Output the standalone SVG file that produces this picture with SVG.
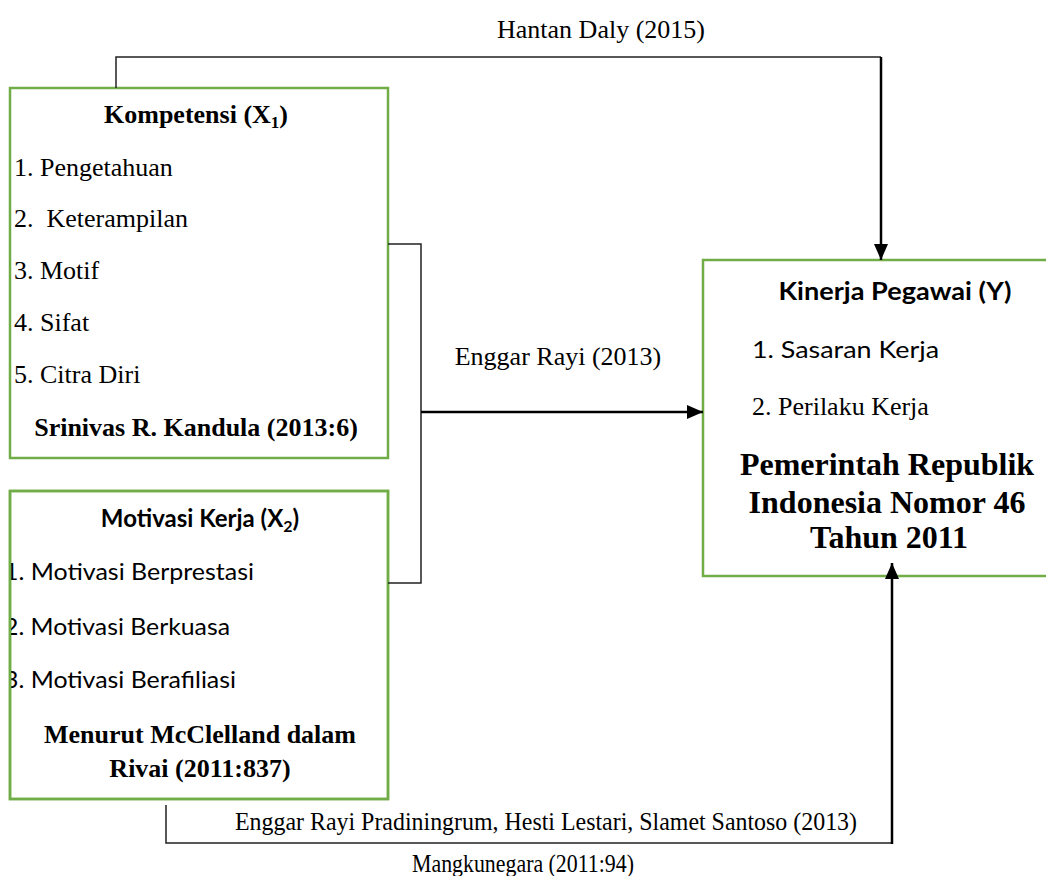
<svg xmlns="http://www.w3.org/2000/svg" width="1046" height="876" viewBox="0 0 1046 876">
<style>
.box{fill:#fff;stroke:#70AD47;stroke-width:2.5}
.tr{font-family:"Liberation Serif","Times New Roman",serif;font-size:26px;fill:#000}
.trb{font-family:"Liberation Serif","Times New Roman",serif;font-size:26px;font-weight:bold;fill:#000}
.big{font-family:"Liberation Serif","Times New Roman",serif;font-size:32px;font-weight:bold;fill:#000}
.cal{font-family:Lato,"Open Sans",sans-serif;font-size:24px;fill:#000}
.calb{font-family:Lato,"Open Sans",sans-serif;font-size:24px;font-weight:bold;fill:#000}
.thin{fill:none;stroke:#222;stroke-width:1.5}
.thick{fill:none;stroke:#000;stroke-width:2.5}
</style>
<defs>
<marker id="ah" viewBox="0 0 16 14" refX="16" refY="7" markerWidth="16" markerHeight="14" markerUnits="userSpaceOnUse" orient="auto">
<path d="M0,0 L16,7 L0,14 Z" fill="#000"/>
</marker>
<clipPath id="c2"><rect x="11" y="491" width="376" height="308"/></clipPath>
</defs>
<rect width="1046" height="876" fill="#fff"/>

<g id="node-kompetensi">
<rect class="box" x="10" y="88" width="378" height="370"/>
<text class="trb" x="196" y="123" text-anchor="middle">Kompetensi (X<tspan font-size="17" dy="5">1</tspan><tspan dy="-5">)</tspan></text>
<text class="tr" x="14" y="176">1. Pengetahuan</text>
<text class="tr" x="14" y="227" xml:space="preserve">2.  Keterampilan</text>
<text class="tr" x="14" y="279">3. Motif</text>
<text class="tr" x="14" y="331">4. Sifat</text>
<text class="tr" x="14" y="383">5. Citra Diri</text>
<text class="trb" x="196" y="436" text-anchor="middle">Srinivas R. Kandula (2013:6)</text>
</g>

<g id="node-motivasi">
<rect class="box" x="10" y="491" width="378" height="308"/>
<text class="calb" x="200" y="527" text-anchor="middle">Motivasi Kerja (X<tspan font-size="16" dy="5">2</tspan><tspan dy="-5">)</tspan></text>
<g clip-path="url(#c2)">
<text class="cal" x="4" y="580" textLength="250" lengthAdjust="spacingAndGlyphs">1. Motivasi Berprestasi</text>
<text class="cal" x="4" y="635" textLength="226" lengthAdjust="spacingAndGlyphs">2. Motivasi Berkuasa</text>
<text class="cal" x="4" y="688" textLength="232" lengthAdjust="spacingAndGlyphs">3. Motivasi Berafiliasi</text>
</g>
<rect x="10" y="491" width="378" height="308" fill="none" stroke="#70AD47" stroke-width="2.5"/>
<text class="trb" x="200" y="743" text-anchor="middle">Menurut McClelland dalam</text>
<text class="trb" x="200" y="777" text-anchor="middle">Rivai (2011:837)</text>
</g>

<g id="node-kinerja">
<rect class="box" x="703" y="260" width="360" height="316"/>
<text class="calb" x="895" y="300" text-anchor="middle" textLength="233" lengthAdjust="spacingAndGlyphs">Kinerja Pegawai (Y)</text>
<text class="cal" x="752" y="358" textLength="187" lengthAdjust="spacingAndGlyphs">1. Sasaran Kerja</text>
<text class="tr" x="752" y="415">2. Perilaku Kerja</text>
<text class="big" x="887" y="475" text-anchor="middle">Pemerintah Republik</text>
<text class="big" x="887" y="513" text-anchor="middle">Indonesia Nomor 46</text>
<text class="big" x="889" y="548" text-anchor="middle">Tahun 2011</text>
</g>

<g id="connectors">
<path class="thin" d="M116,88 V57 H881"/>
<path class="thick" d="M881,57 V260" marker-end="url(#ah)"/>
<path class="thin" d="M388,244 H421 V583 H388"/>
<path class="thick" d="M421,412 H703" marker-end="url(#ah)"/>
<path class="thin" d="M166,805 V843 H892"/>
<path class="thick" d="M892,844 V563" marker-end="url(#ah)"/>
</g>

<g id="labels">
<text class="tr" x="601" y="38" text-anchor="middle">Hantan Daly (2015)</text>
<text class="tr" x="558" y="365" text-anchor="middle">Enggar Rayi (2013)</text>
<text class="tr" x="235" y="830" textLength="622" lengthAdjust="spacingAndGlyphs">Enggar Rayi Pradiningrum, Hesti Lestari, Slamet Santoso (2013)</text>
<text class="tr" x="412" y="872" textLength="222" lengthAdjust="spacingAndGlyphs">Mangkunegara (2011:94)</text>
</g>
</svg>
